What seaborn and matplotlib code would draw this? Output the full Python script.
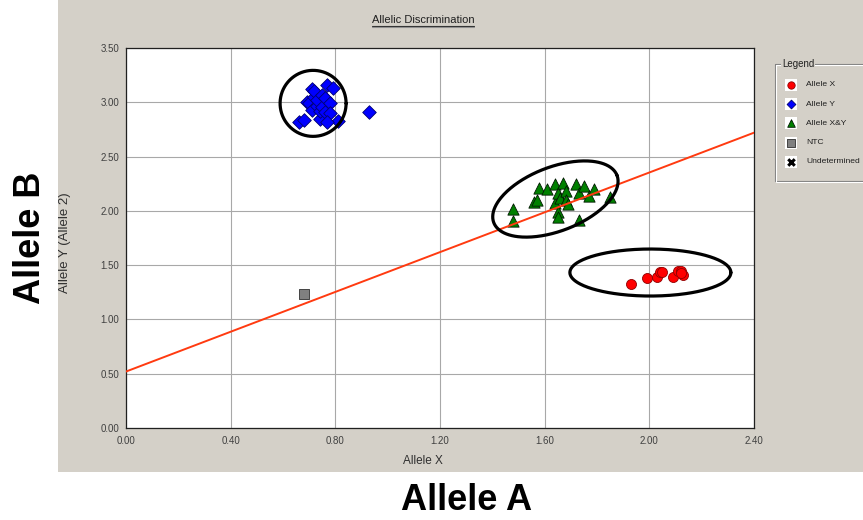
import numpy as np
import pandas as pd
import matplotlib
matplotlib.use("Agg")
import matplotlib.pyplot as plt
from matplotlib import font_manager
from matplotlib.patches import Rectangle
from matplotlib.lines import Line2D
import seaborn as sns

# ---- data -------------------------------------------------------------
# Allele X calls (homozygous X)
allele_x_x = [1.93, 1.99, 2.03, 2.04, 2.05, 2.09, 2.11, 2.12, 2.13, 2.12]
allele_x_y = [1.33, 1.38, 1.39, 1.44, 1.44, 1.39, 1.45, 1.45, 1.41, 1.43]

# Allele Y calls (homozygous Y)
allele_y_x = [0.66, 0.68, 0.69, 0.70, 0.71, 0.71, 0.72, 0.72, 0.73, 0.73, 0.74,
              0.74, 0.75, 0.75, 0.76, 0.76, 0.77, 0.78, 0.78, 0.79, 0.81, 0.77,
              0.93]
allele_y_y = [2.82, 2.84, 3.00, 2.99, 3.12, 2.93, 3.05, 3.10, 2.97, 3.02, 2.85,
              2.92, 3.07, 2.96, 2.91, 3.04, 3.16, 2.99, 2.90, 3.13, 2.83, 2.82,
              2.91]

# Allele X&Y calls (heterozygous)
allele_xy_x = [1.48, 1.48, 1.56, 1.57, 1.58, 1.61, 1.64, 1.64, 1.65, 1.65, 1.65,
               1.66, 1.67, 1.68, 1.68, 1.69, 1.72, 1.73, 1.73, 1.75, 1.77, 1.79,
               1.85]
allele_xy_y = [2.02, 1.91, 2.08, 2.10, 2.21, 2.20, 2.25, 2.07, 2.16, 1.99, 1.94,
               2.12, 2.26, 2.18, 2.10, 2.06, 2.25, 2.16, 1.92, 2.23, 2.14, 2.20,
               2.13]

# No-template control
ntc_x = [0.68]
ntc_y = [1.23]

# Threshold line end points
threshold_x = [0.00, 2.40]
threshold_y = [0.52, 2.72]

x_ticks = [0.00, 0.40, 0.80, 1.20, 1.60, 2.00, 2.40]
y_ticks = [0.00, 0.50, 1.00, 1.50, 2.00, 2.50, 3.00, 3.50]

legend_labels = ["Allele X", "Allele Y", "Allele X&Y", "NTC", "Undetermined"]

# ---- styling -----------------------------------------------------------
sns.set_theme(style="white")
font_names = {f.name for f in font_manager.fontManager.ttflist}
NARROW = "Liberation Sans Narrow" if "Liberation Sans Narrow" in font_names else "Liberation Sans"
plt.rcParams["font.family"] = ["Liberation Sans", "DejaVu Sans"]

PANEL = "#D4D0C8"
W, H = 863, 520
fig = plt.figure(figsize=(W / 100, H / 100), dpi=100, facecolor="white")


def fx(px):
    return px / W


def fy(py):
    return 1 - py / H


# grey window panel behind the chart
fig.add_artist(Rectangle((fx(58), fy(472)), 1 - fx(58), fy(0) - fy(472),
                         transform=fig.transFigure, facecolor=PANEL,
                         edgecolor="none", zorder=0))

AX_L, AX_R, AX_T, AX_B = 126, 754, 48, 428
ax = fig.add_axes([fx(AX_L), fy(AX_B), fx(AX_R) - fx(AX_L), fy(AX_T) - fy(AX_B)])
ax.set_facecolor("white")
ax.set_xlim(x_ticks[0], x_ticks[-1])
ax.set_ylim(y_ticks[0], y_ticks[-1])
ax.set_xticks(x_ticks)
ax.set_yticks(y_ticks)
ax.set_xticklabels([f"{v:.2f}" for v in x_ticks], fontfamily=NARROW)
ax.set_yticklabels([f"{v:.2f}" for v in y_ticks], fontfamily=NARROW)
ax.tick_params(length=0, labelsize=7, labelcolor="#404040")
ax.tick_params(axis="x", pad=6)
ax.tick_params(axis="y", pad=5)
ax.grid(True, color="#A8A8A8", linewidth=0.8)
ax.set_axisbelow(True)
for sp in ax.spines.values():
    sp.set_color("#202020")
    sp.set_linewidth(0.9)

groups = [
    ("Allele X", allele_x_x, allele_x_y, "o", 52, "#FF0000", "#900000"),
    ("Allele Y", allele_y_x, allele_y_y, "D", 48, "#0000FF", "#000070"),
    ("Allele X&Y", allele_xy_x, allele_xy_y, "^", 66, "#008000", "#001800"),
    ("NTC", ntc_x, ntc_y, "s", 44, "#808080", "#303030"),
]
for name, xs, ys, mk, size, fc, ec in groups:
    df = pd.DataFrame({"x": xs, "y": ys})
    sns.scatterplot(data=df, x="x", y="y", ax=ax, marker=mk, s=size, color=fc,
                    edgecolor=ec, linewidth=0.6, zorder=3, legend=False)

sns.lineplot(x=threshold_x, y=threshold_y, ax=ax, color="#FF3A10",
             linewidth=1.4, zorder=4)
ax.set_xlabel("")
ax.set_ylabel("")

# cluster rings, sized in pixels around a data-space centre
px_x = (AX_R - AX_L) / (x_ticks[-1] - x_ticks[0])
px_y = (AX_B - AX_T) / (y_ticks[-1] - y_ticks[0])


def ring(cx, cy, a, b, angle):
    t = np.linspace(0, 2 * np.pi, 300)
    th = np.deg2rad(angle)
    u, v = a * np.cos(t), b * np.sin(t)
    dx = u * np.cos(th) - v * np.sin(th)
    dy = u * np.sin(th) + v * np.cos(th)
    ax.plot(cx + dx / px_x, cy + dy / px_y, color="black", linewidth=2.3,
            zorder=6, clip_on=False)


ring(0.715, 2.99, 33, 33, 0)
ring(1.641, 2.109, 66, 32, 21)
ring(2.004, 1.432, 80.5, 23.5, 0)

# title and axis captions
title = fig.text(fx(423), fy(20), "Allelic Discrimination", ha="center",
                 va="center", fontsize=8, color="#202020")
fig.text(fx(423), fy(461), "Allele X", ha="center", va="center",
         fontsize=8.5, color="#303030")
fig.text(fx(65), fy(243), "Allele Y (Allele 2)", ha="center", va="center",
         rotation=90, fontsize=9.5, color="#303030")

# big captions outside the window panel
big_size = 30.5 if NARROW != "Liberation Sans" else 26
fig.text(fx(467), fy(500), "Allele A", ha="center", va="center",
         fontsize=big_size, fontweight="bold", fontfamily=NARROW, color="black")
fig.text(fx(31), fy(238), "Allele B", ha="center", va="center", rotation=90,
         fontsize=big_size, fontweight="bold", fontfamily=NARROW, color="black")

# underline for the title
fig.canvas.draw()
bb = title.get_window_extent()
fig.add_artist(Line2D([bb.x0 / W, bb.x1 / W], [(bb.y0 - 1) / H, (bb.y0 - 1) / H],
                      transform=fig.transFigure, color="#303030", linewidth=0.8))
fig.add_artist(Line2D([bb.x0 / W, bb.x1 / W], [(bb.y0 - 2.2) / H, (bb.y0 - 2.2) / H],
                      transform=fig.transFigure, color="#909090", linewidth=0.8))

# legend group box
lax = fig.add_axes([fx(770), fy(190), fx(900) - fx(770), fy(55) - fy(190)])
lax.set_xlim(770, 900)
lax.set_ylim(190, 55)
lax.axis("off")
lax.add_patch(Rectangle((775, 64), 130, 117, fill=False, edgecolor="#808080",
                        linewidth=0.8))
lax.add_patch(Rectangle((776, 65), 130, 117, fill=False, edgecolor="white",
                        linewidth=0.8))
lax.text(782, 64, "Legend", ha="left", va="center", fontsize=7, color="#202020",
         bbox=dict(facecolor=PANEL, edgecolor="none", pad=0.8))

legend_markers = [
    ("o", 28, "#FF0000", "#900000"),
    ("D", 20, "#0000FF", "#000070"),
    ("^", 30, "#008000", "#001800"),
    ("s", 30, "#808080", "#303030"),
    ("x", 22, "black", "black"),
]
for i, (label, (mk, size, fc, ec)) in enumerate(zip(legend_labels, legend_markers)):
    yy = 85 + 19.2 * i
    lax.add_patch(Rectangle((785, yy - 6), 12, 12, facecolor="white",
                            edgecolor="none"))
    if mk == "x":
        lax.scatter([791], [yy], marker=mk, s=size, color=fc, linewidths=2.2)
    else:
        lax.scatter([791], [yy], marker=mk, s=size, color=fc, edgecolors=ec,
                    linewidths=0.6)
    lax.text(806, yy, label, ha="left", va="center", fontsize=6.1,
             color="#202020")

fig.savefig("out.png", dpi=100, facecolor="white")
